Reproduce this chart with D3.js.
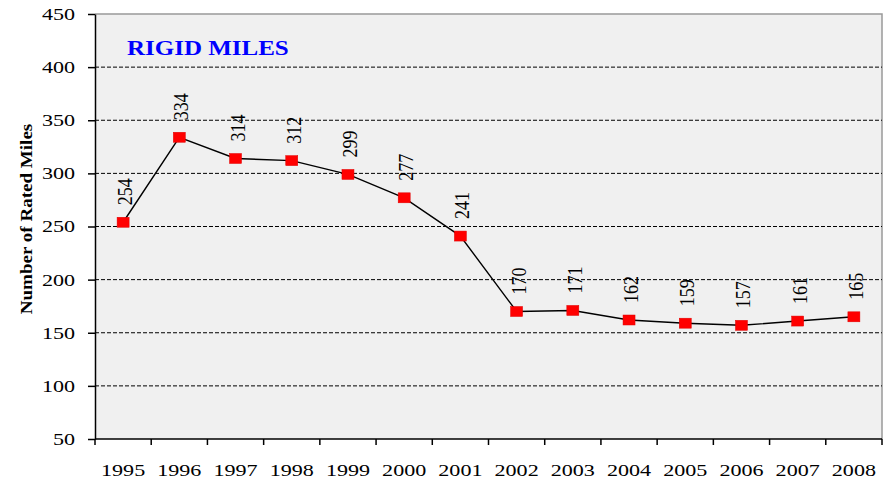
<!DOCTYPE html>
<html>
<head>
<meta charset="utf-8">
<style>
body { margin: 0; background: #fff; }
text { font-family: "Liberation Serif", "Times New Roman", serif; }
</style>
</head>
<body>
<div id="chart"></div>
<script src="https://cdnjs.cloudflare.com/ajax/libs/d3/7.8.5/d3.min.js"></script>
<script>
var years = ['1995','1996','1997','1998','1999','2000','2001','2002','2003','2004','2005','2006','2007','2008'];
var miles = [254, 334, 314, 312, 299, 277, 241, 170, 171, 162, 159, 157, 161, 165];
var yTicks = [50, 100, 150, 200, 250, 300, 350, 400, 450];

var w = 893, h = 483;
var margin = {top: 14, right: 11, bottom: 44, left: 95};
var sx = 1.3; // the whole original is stretched sideways

var svg = d3.select('#chart').append('svg')
    .attr('width', w)
    .attr('height', h);

var xScale = d3.scaleBand()
    .domain(years)
    .range([margin.left, w - margin.right]);

var yScale = d3.scaleLinear()
    .domain([50, 450])
    .range([h - margin.bottom, margin.top]);

function cx(i) { return xScale(years[i]) + xScale.bandwidth() / 2; }

// plot background
svg.append('rect')
    .attr('x', margin.left)
    .attr('y', margin.top)
    .attr('width', w - margin.right - margin.left)
    .attr('height', h - margin.bottom - margin.top)
    .attr('fill', '#f0f0f0');

// top + right border
svg.append('path')
    .attr('d', 'M' + margin.left + ',' + margin.top + 'H' + (w - margin.right) + 'V' + (h - margin.bottom))
    .attr('fill', 'none')
    .attr('stroke', '#999')
    .attr('stroke-width', 1.5);

// gridlines
svg.selectAll('.grid')
    .data(yTicks.filter(function(d) { return d > 50 && d < 450; }))
    .enter().append('line')
    .attr('class', 'grid')
    .attr('x1', margin.left)
    .attr('x2', w - margin.right)
    .attr('y1', function(d) { return yScale(d); })
    .attr('y2', function(d) { return yScale(d); })
    .attr('stroke', '#000')
    .attr('stroke-width', 1)
    .attr('stroke-dasharray', '4,2');

// y axis
var yAxis = svg.append('g')
    .attr('transform', 'translate(' + margin.left + ',0)')
    .call(d3.axisLeft(yScale).tickValues(yTicks).tickSize(7).tickSizeOuter(0));
yAxis.select('.domain').attr('stroke-width', 1.5);
yAxis.selectAll('.tick line').attr('stroke-width', 1.5);
yAxis.selectAll('text')
    .attr('font-size', '17px')
    .attr('fill', '#000')
    .attr('x', -20 / sx)
    .attr('transform', 'scale(' + sx + ',1)')
    .style('font-family', '"Liberation Serif", serif');

// x axis, ticks at category boundaries
var xAxis = svg.append('g')
    .attr('transform', 'translate(0,' + (h - margin.bottom) + ')');
xAxis.append('line')
    .attr('x1', margin.left).attr('x2', w - margin.right)
    .attr('stroke', '#000').attr('stroke-width', 1.5);
var bounds = years.map(function(d) { return xScale(d); }).concat([w - margin.right]);
xAxis.selectAll('.tk')
    .data(bounds)
    .enter().append('line')
    .attr('x1', function(d) { return d; })
    .attr('x2', function(d) { return d; })
    .attr('y1', 0).attr('y2', 6)
    .attr('stroke', '#000').attr('stroke-width', 1.5);
xAxis.selectAll('.lbl')
    .data(years)
    .enter().append('text')
    .attr('transform', function(d, i) { return 'translate(' + cx(i) + ',37) scale(' + sx + ',1)'; })
    .attr('text-anchor', 'middle')
    .attr('font-size', '17px')
    .text(function(d) { return d; });

// line
var line = d3.line()
    .x(function(d, i) { return cx(i); })
    .y(function(d) { return yScale(d); });

svg.append('path')
    .attr('d', line(miles))
    .attr('fill', 'none')
    .attr('stroke', '#000')
    .attr('stroke-width', 1.4);

// markers
svg.selectAll('.pt')
    .data(miles)
    .enter().append('rect')
    .attr('x', function(d, i) { return cx(i) - 6; })
    .attr('y', function(d) { return yScale(d) - 5; })
    .attr('width', 12)
    .attr('height', 10)
    .attr('fill', '#ff0000')
    .attr('stroke', '#e00000')
    .attr('stroke-width', 0.5);

// value labels (rotated)
svg.selectAll('.val')
    .data(miles)
    .enter().append('text')
    .attr('transform', function(d, i) {
        return 'translate(' + (cx(i) + 9) + ',' + (yScale(d) - 17) + ') scale(1.2,1) rotate(-90)';
    })
    .attr('font-size', '18px')
    .text(function(d) { return d; });

// title
svg.append('text')
    .attr('transform', 'translate(127,55) scale(1.25,1)')
    .attr('font-size', '20px')
    .attr('font-weight', 'bold')
    .attr('fill', '#0000ff')
    .text('RIGID MILES');

// y label
svg.append('text')
    .attr('transform', 'translate(32,219) rotate(-90) scale(1.19,1)')
    .attr('text-anchor', 'middle')
    .attr('font-size', '16px')
    .attr('font-weight', 'bold')
    .text('Number of Rated Miles');
</script>
</body>
</html>
